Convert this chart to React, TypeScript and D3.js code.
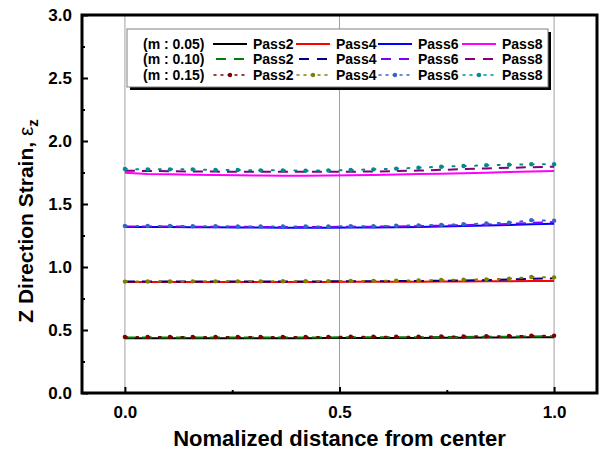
import { useEffect, useRef } from "react";
import * as d3 from "d3";

// normalized positions of the nodes along the radius
const xPos = [0, 0.053, 0.105, 0.158, 0.211, 0.263, 0.316, 0.368, 0.421, 0.474, 0.526, 0.579, 0.632, 0.684, 0.737, 0.789, 0.842, 0.895, 0.947, 1.0];

// m : 0.05
const p2_m005 = [0.435, 0.435, 0.435, 0.435, 0.435, 0.435, 0.435, 0.435, 0.435, 0.436, 0.436, 0.436, 0.437, 0.437, 0.438, 0.439, 0.44, 0.441, 0.442, 0.443];
const p4_m005 = [0.88, 0.88, 0.88, 0.88, 0.88, 0.88, 0.88, 0.881, 0.881, 0.881, 0.882, 0.882, 0.883, 0.883, 0.884, 0.885, 0.886, 0.887, 0.888, 0.889];
const p6_m005 = [1.318, 1.318, 1.317, 1.316, 1.315, 1.314, 1.313, 1.312, 1.312, 1.312, 1.313, 1.314, 1.316, 1.318, 1.321, 1.325, 1.329, 1.334, 1.339, 1.344];
const p8_m005 = [1.748, 1.738, 1.736, 1.733, 1.73, 1.728, 1.726, 1.725, 1.725, 1.726, 1.728, 1.731, 1.735, 1.738, 1.741, 1.745, 1.748, 1.753, 1.758, 1.762];

// m : 0.10
const p2_m010 = [0.44, 0.441, 0.441, 0.441, 0.441, 0.441, 0.441, 0.441, 0.441, 0.441, 0.442, 0.442, 0.443, 0.443, 0.444, 0.445, 0.446, 0.447, 0.449, 0.45];
const p4_m010 = [0.884, 0.884, 0.884, 0.884, 0.885, 0.885, 0.885, 0.885, 0.885, 0.886, 0.886, 0.887, 0.888, 0.889, 0.891, 0.893, 0.896, 0.9, 0.906, 0.91];
const p6_m010 = [1.322, 1.322, 1.321, 1.32, 1.32, 1.319, 1.318, 1.318, 1.318, 1.318, 1.319, 1.32, 1.322, 1.325, 1.328, 1.332, 1.337, 1.342, 1.35, 1.357];
const p8_m010 = [1.764, 1.762, 1.76, 1.758, 1.757, 1.756, 1.755, 1.755, 1.755, 1.755, 1.756, 1.758, 1.761, 1.765, 1.771, 1.777, 1.782, 1.787, 1.792, 1.796];

// m : 0.15
const p2_m015 = [0.444, 0.444, 0.445, 0.445, 0.445, 0.445, 0.445, 0.445, 0.445, 0.445, 0.446, 0.446, 0.447, 0.447, 0.448, 0.449, 0.45, 0.452, 0.454, 0.455];
const p4_m015 = [0.884, 0.885, 0.885, 0.886, 0.886, 0.886, 0.886, 0.887, 0.887, 0.888, 0.889, 0.89, 0.891, 0.893, 0.897, 0.899, 0.902, 0.907, 0.921, 0.918];
const p6_m015 = [1.326, 1.326, 1.325, 1.324, 1.323, 1.322, 1.322, 1.321, 1.321, 1.322, 1.323, 1.324, 1.327, 1.33, 1.334, 1.339, 1.345, 1.352, 1.372, 1.368];
const p8_m015 = [1.778, 1.775, 1.775, 1.775, 1.77, 1.77, 1.767, 1.767, 1.764, 1.766, 1.77, 1.775, 1.781, 1.788, 1.796, 1.802, 1.807, 1.812, 1.815, 1.815];

const passLabels = ["Pass2", "Pass4", "Pass6", "Pass8"];
const mLabels = ["(m : 0.05)", "(m : 0.10)", "(m : 0.15)"];
const xTicks = [0, 0.5, 1.0];
const yTicks = [0, 0.5, 1.0, 1.5, 2.0, 2.5, 3.0];

const groups = [
  { values: [p2_m005, p4_m005, p6_m005, p8_m005], colors: ["#000000", "#ff0000", "#0000ff", "#ff00ff"], style: "solid" },
  { values: [p2_m010, p4_m010, p6_m010, p8_m010], colors: ["#008000", "#000080", "#8000ff", "#800080"], style: "dash" },
  { values: [p2_m015, p4_m015, p6_m015, p8_m015], colors: ["#800000", "#808000", "#3366cc", "#008c8c"], style: "dot" },
];

const FONT = "'Liberation Sans', Arial, sans-serif";

export default function App() {
  const svgRef = useRef<SVGSVGElement>(null);

  useEffect(() => {
    const svg = d3.select(svgRef.current);
    svg.selectAll("*").remove();

    const margin = { top: 15, right: 6, bottom: 59, left: 82 };
    const W = 603, H = 452;
    const width = W - margin.left - margin.right;
    const height = H - margin.top - margin.bottom;

    const g = svg.append("g").attr("transform", `translate(${margin.left},${margin.top})`);

    const x = d3.scaleLinear().domain([-0.1, 1.1]).range([0, width]);
    const y = d3.scaleLinear().domain([0, 3]).range([height, 0]);

    // vertical grid
    g.selectAll(".grid")
      .data(xTicks)
      .enter()
      .append("line")
      .attr("x1", (d) => x(d))
      .attr("x2", (d) => x(d))
      .attr("y1", 0)
      .attr("y2", height)
      .attr("stroke", "#a0a0a0")
      .attr("stroke-width", 1);

    // series
    const line = d3
      .line<number>()
      .x((_, i) => x(xPos[i]))
      .y((d) => y(d));

    groups.forEach((grp) => {
      grp.values.forEach((vals, k) => {
        const p = g
          .append("path")
          .datum(vals)
          .attr("fill", "none")
          .attr("stroke", grp.colors[k])
          .attr("stroke-width", 2)
          .attr("d", line);
        if (grp.style === "dash") p.attr("stroke-dasharray", "10,7");
        if (grp.style === "dot") p.attr("stroke-dasharray", "2,9.3").attr("stroke-linecap", "round");
        if (grp.style === "dot") {
          g.selectAll(null)
            .data(vals)
            .enter()
            .append("circle")
            .attr("cx", (_, i) => x(xPos[i]))
            .attr("cy", (d) => y(d))
            .attr("r", 2.2)
            .attr("fill", grp.colors[k]);
        }
      });
    });

    // axes with inward ticks
    const xAxis = g
      .append("g")
      .attr("transform", `translate(0,${height})`)
      .call(d3.axisBottom(x).tickValues(xTicks).tickSize(-6).tickPadding(13).tickFormat(d3.format(".1f")));
    g.append("g")
      .attr("transform", `translate(0,${height})`)
      .call(d3.axisBottom(x).tickValues([0.25, 0.75]).tickSize(-3).tickFormat(() => ""));
    const yAxis = g
      .append("g")
      .call(d3.axisLeft(y).tickValues(yTicks).tickSize(-6).tickPadding(10).tickFormat(d3.format(".1f")));
    g.append("g").call(
      d3.axisLeft(y).tickValues([0.25, 0.75, 1.25, 1.75, 2.25, 2.75]).tickSize(-3).tickFormat(() => "")
    );
    g.selectAll(".domain").remove();
    g.selectAll(".tick line").attr("stroke", "#000").attr("stroke-width", 2);
    [xAxis, yAxis].forEach((a) =>
      a.selectAll("text").style("font-family", FONT).style("font-size", "17px").style("font-weight", "bold").attr("fill", "#000")
    );

    // frame
    g.append("rect")
      .attr("x", 0)
      .attr("y", 0)
      .attr("width", width)
      .attr("height", height)
      .attr("fill", "none")
      .attr("stroke", "#000")
      .attr("stroke-width", 3);

    // axis titles
    g.append("text")
      .attr("x", x(0.5))
      .attr("y", height + 53)
      .attr("text-anchor", "middle")
      .style("font-family", FONT)
      .style("font-size", "22px")
      .style("font-weight", "bold")
      .text("Nomalized distance from center");

    const yt = svg
      .append("text")
      .attr("transform", `translate(33,221) rotate(-90)`)
      .attr("text-anchor", "middle")
      .style("font-family", FONT)
      .style("font-size", "21px")
      .style("font-weight", "bold");
    yt.append("tspan").text("Z Direction Strain, ");
    yt.append("tspan").style("font-weight", "normal").text("\u03b5");
    yt.append("tspan").attr("dy", 5).style("font-size", "15px").text("z");

    // legend
    const lg = svg.append("g").attr("transform", "translate(127,29)");
    lg.append("rect").attr("x", 3).attr("y", 3).attr("width", 421).attr("height", 58).attr("fill", "#000");
    lg.append("rect")
      .attr("x", 0)
      .attr("y", 0)
      .attr("width", 421)
      .attr("height", 58)
      .attr("fill", "#fff")
      .attr("stroke", "#808080")
      .attr("stroke-width", 1);

    const rowY = [15, 30, 46];
    const sampleX = [86, 169, 251, 335];
    groups.forEach((grp, r) => {
      const row = lg.append("g").attr("transform", `translate(0,${rowY[r]})`);
      row.append("text")
        .attr("x", 16)
        .attr("dy", "0.35em")
        .style("font-family", FONT)
        .style("font-size", "14px")
        .style("font-weight", "bold")
        .text(mLabels[r]);
      passLabels.forEach((lab, k) => {
        const ln = row
          .append("line")
          .attr("x1", sampleX[k])
          .attr("x2", sampleX[k] + 34)
          .attr("stroke", grp.colors[k])
          .attr("stroke-width", 2);
        if (grp.style === "dash") ln.attr("stroke-dasharray", "10,8").attr("stroke-dashoffset", -3);
        if (grp.style === "dot") {
          ln.attr("stroke-dasharray", "2,5").attr("stroke-linecap", "round").attr("x1", sampleX[k] + 1).attr("stroke-width", 1.5);
          row.append("circle").attr("cx", sampleX[k] + 17).attr("cy", 0).attr("r", 2.2).attr("fill", grp.colors[k]);
        }
        row.append("text")
          .attr("x", sampleX[k] + 40)
          .attr("dy", "0.35em")
          .style("font-family", FONT)
          .style("font-size", "14px")
          .style("font-weight", "bold")
          .text(lab);
      });
    });
  }, []);

  return (
    <svg
      ref={svgRef}
      width="603"
      height="452"
      style={{ position: "absolute", left: 0, top: 0, background: "#fff" }}
    />
  );
}
